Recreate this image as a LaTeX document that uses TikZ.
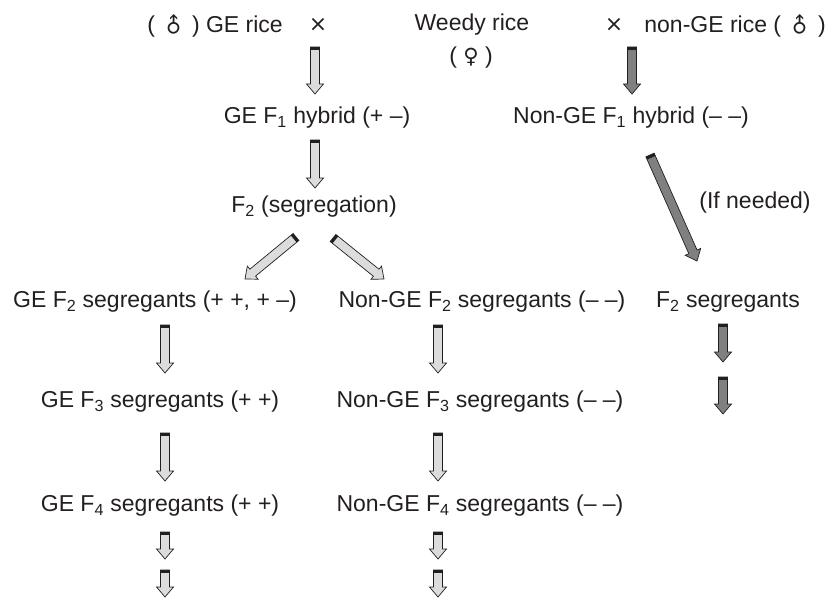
\documentclass[tikz,border=0pt]{standalone}
\usepackage{fontspec}
\setmainfont{Liberation Sans}
\newfontfamily\symfont{DejaVu Sans}
\usetikzlibrary{calc}

\definecolor{lightfill}{HTML}{DCDCDC}
\definecolor{darkfill}{HTML}{808080}
\definecolor{inkgray}{HTML}{231F20}

\newcommand{\malesym}{\raisebox{-5pt}{\rotatebox{45}{\symfont\fontsize{21}{21}\selectfont\char"2642}}}
\newcommand{\femalesym}{{\symfont\fontsize{21}{21}\selectfont\char"2640}}
\newcommand{\crosssym}{{\symfont\fontsize{22}{22}\selectfont\char"00D7}}

% block arrow with a dark cap: #1 fill, #2 tail, #3 tip
\newcommand{\fatarrow}[3]{%
  \path (#2) coordinate (fa-s) (#3) coordinate (fa-t);
  \coordinate (fa-h) at ($(fa-t)!10pt!(fa-s)$);
  \coordinate (fa-k) at ($(fa-s)!3pt!(fa-t)$);
  \filldraw[#1, draw=inkgray, line width=0.7pt, line join=miter]
    ($(fa-s)!4.5pt!90:(fa-t)$) -- ($(fa-h)!4.5pt!90:(fa-t)$) -- ($(fa-h)!8.5pt!90:(fa-t)$)
    -- (fa-t) -- ($(fa-h)!8.5pt!-90:(fa-t)$) -- ($(fa-h)!4.5pt!-90:(fa-t)$)
    -- ($(fa-s)!4.5pt!-90:(fa-t)$) -- cycle;
  \fill[inkgray] ($(fa-s)!4.5pt!90:(fa-t)$) -- ($(fa-k)!4.5pt!90:(fa-t)$)
    -- ($(fa-k)!4.5pt!-90:(fa-t)$) -- ($(fa-s)!4.5pt!-90:(fa-t)$) -- cycle;
}

\begin{document}
\begin{tikzpicture}[x=1pt, y=-1pt,
    txt/.style={text=inkgray, inner sep=0pt, font=\fontsize{23}{27}\selectfont},
    ge/.style={fill=lightfill},
    nonge/.style={fill=darkfill}
]
    \useasboundingbox (0,0) rectangle (830,599);

    % parents
    \node[txt, anchor=base east] (gerice) at (283,33) {( \malesym\ ) GE rice};
    \node[txt] (cross1) at (318,25) {\crosssym};
    \node[txt] (weedy) at (472,25) {Weedy rice};
    \node[txt] (female) at (471,58) {( \femalesym\ )};
    \node[txt] (cross2) at (614,25) {\crosssym};
    \node[txt, anchor=base east] (nongerice) at (826,33) {non-GE rice ( \malesym\ )};

    % F1 and F2
    \node[txt] (gef1) at (317,118) {GE F\textsubscript{1} hybrid (+ –)};
    \node[txt] (nongef1) at (631,118) {Non-GE F\textsubscript{1} hybrid (– –)};
    \node[txt] (f2seg) at (314,207) {F\textsubscript{2} (segregation)};
    \node[txt] (ifneeded) at (755,203) {(If needed)};

    % segregant rows
    \node[txt] (gef2) at (155,302) {GE F\textsubscript{2} segregants (+ +, + –)};
    \node[txt] (nongef2) at (482,302) {Non-GE F\textsubscript{2} segregants (– –)};
    \node[txt] (f2only) at (728,302) {F\textsubscript{2} segregants};
    \node[txt] (gef3) at (160,402) {GE F\textsubscript{3} segregants (+ +)};
    \node[txt] (nongef3) at (480,402) {Non-GE F\textsubscript{3} segregants (– –)};
    \node[txt] (gef4) at (160,506) {GE F\textsubscript{4} segregants (+ +)};
    \node[txt] (nongef4) at (480,506) {Non-GE F\textsubscript{4} segregants (– –)};

    % arrow ends
    \coordinate (a1s) at (315,47);  \coordinate (a1t) at (315,94);
    \coordinate (a2s) at (632,47);  \coordinate (a2t) at (632,94);
    \coordinate (a3s) at (315,140); \coordinate (a3t) at (315,188);
    \coordinate (d1s) at (296,237); \coordinate (d1t) at (245,279);
    \coordinate (d2s) at (333,238); \coordinate (d2t) at (384,279);
    \coordinate (d3s) at (650,155); \coordinate (d3t) at (697,261);
    \coordinate (l1s) at (165,325); \coordinate (l1t) at (165,373);
    \coordinate (m1s) at (438,325); \coordinate (m1t) at (438,373);
    \coordinate (r1s) at (723,324); \coordinate (r1t) at (723,362);
    \coordinate (r2s) at (723,377); \coordinate (r2t) at (723,414);
    \coordinate (l2s) at (165,433); \coordinate (l2t) at (165,481);
    \coordinate (m2s) at (438,433); \coordinate (m2t) at (438,481);
    \coordinate (l3s) at (165,532); \coordinate (l3t) at (165,559);
    \coordinate (l4s) at (165,570); \coordinate (l4t) at (165,597);
    \coordinate (m3s) at (438,532); \coordinate (m3t) at (438,559);
    \coordinate (m4s) at (438,570); \coordinate (m4t) at (438,597);

    \fatarrow{ge}{a1s}{a1t}
    \fatarrow{nonge}{a2s}{a2t}
    \fatarrow{ge}{a3s}{a3t}
    \fatarrow{ge}{d1s}{d1t}
    \fatarrow{ge}{d2s}{d2t}
    \fatarrow{nonge}{d3s}{d3t}
    \fatarrow{ge}{l1s}{l1t}
    \fatarrow{ge}{m1s}{m1t}
    \fatarrow{nonge}{r1s}{r1t}
    \fatarrow{nonge}{r2s}{r2t}
    \fatarrow{ge}{l2s}{l2t}
    \fatarrow{ge}{m2s}{m2t}
    \fatarrow{ge}{l3s}{l3t}
    \fatarrow{ge}{l4s}{l4t}
    \fatarrow{ge}{m3s}{m3t}
    \fatarrow{ge}{m4s}{m4t}
\end{tikzpicture}
\end{document}
